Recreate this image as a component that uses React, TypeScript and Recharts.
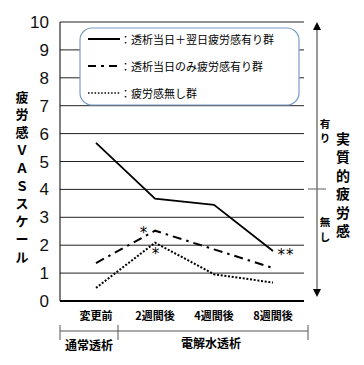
import { LineChart, Line, XAxis, YAxis, CartesianGrid, LabelList } from "recharts";

const categories = ["変更前", "2週間後", "4週間後", "8週間後"];
const bothDays = [5.67, 3.67, 3.45, 1.79];
const dayOnly = [1.36, 2.52, 1.85, 1.18];
const noFatigue = [0.47, 2.09, 0.96, 0.66];
const bothDaysSig = ["", "", "", "**"];
const dayOnlySig = ["", "*", "", ""];
const noFatigueSig = ["", "*", "", ""];
const yTicks = [0, 1, 2, 3, 4, 5, 6, 7, 8, 9, 10];
const legendNames = ["：透析当日＋翌日疲労感有り群", "：透析当日のみ疲労感有り群", "：疲労感無し群"];
const yLabel = "疲労感ＶＡＳスケール";
const rightLabel = "実質的疲労感";

const data = categories.map((name, i) => ({
  name,
  both: bothDays[i],
  dayOnly: dayOnly[i],
  none: noFatigue[i],
  bothSig: bothDaysSig[i],
  dayOnlySig: dayOnlySig[i],
  noneSig: noFatigueSig[i],
}));

const JP = "'Noto Sans CJK JP', sans-serif";
const SOLID = { stroke: "#000", strokeWidth: 1.8 };
const DASHDOT = { stroke: "#000", strokeWidth: 2, strokeDasharray: "9 5 2.5 5" };
const DOTTED = { stroke: "#000", strokeWidth: 2, strokeDasharray: "2 1.7" };

function sigLabel(dx: number, dy: number) {
  return (props: any) => {
    const { x, y, value } = props;
    if (!value) return null;
    return (
      <text x={x + dx} y={y + dy + 7} textAnchor="middle" fontFamily="'DejaVu Sans', sans-serif" fontSize={15} letterSpacing={1} fill="#000">
        {value}
      </text>
    );
  };
}

export default function App() {
  const styles = [SOLID, DASHDOT, DOTTED];
  return (
    <div style={{ position: "absolute", left: 0, top: 0, width: 364, height: 365, background: "#fff" }}>
      <LineChart width={364} height={365} data={data} margin={{ top: 22, right: 60, bottom: 34, left: 0 }}>
        <CartesianGrid horizontal vertical={false} stroke="#222" strokeOpacity={1} />
        <XAxis
          dataKey="name"
          scale="point"
          padding={{ left: 36, right: 31 }}
          axisLine={{ stroke: "#000", strokeWidth: 2 }}
          tickLine={false}
          tickMargin={5}
          tick={{ fill: "#000", fontSize: 11, fontFamily: JP, fontWeight: 700 }}
        />
        <YAxis
          domain={[0, 10]}
          ticks={yTicks}
          width={60}
          axisLine={{ stroke: "#000" }}
          tickLine={false}
          tickMargin={5}
          tick={{ fill: "#111", fontSize: 17, fontFamily: "'Liberation Sans', Arial, sans-serif" }}
        />
        <Line dataKey="both" type="linear" dot={false} {...SOLID} isAnimationActive={false}>
          <LabelList dataKey="bothSig" content={sigLabel(13, 2)} />
        </Line>
        <Line dataKey="dayOnly" type="linear" dot={false} {...DASHDOT} isAnimationActive={false}>
          <LabelList dataKey="dayOnlySig" content={sigLabel(-11, 0)} />
        </Line>
        <Line dataKey="none" type="linear" dot={false} {...DOTTED} isAnimationActive={false}>
          <LabelList dataKey="noneSig" content={sigLabel(1, 9)} />
        </Line>
      </LineChart>

      <svg width={364} height={365} style={{ position: "absolute", left: 0, top: 0, pointerEvents: "none" }}>
        {/* 凡例 */}
        <rect x={80} y={28} width={219} height={77} rx={12} fill="#fff" stroke="#7b9cc8" strokeWidth={1.2} />
        {legendNames.map((n, i) => {
          const y = 39 + i * 27;
          return (
            <g key={n}>
              <line x1={88} x2={120} y1={y} y2={y} {...styles[i]} strokeWidth={i === 2 ? 1.5 : 2} strokeDasharray={i === 1 ? "8 5 3 5" : i === 2 ? "1.5 1.8" : undefined} />
              <text x={120} y={y} dominantBaseline="central" fontFamily={JP} fontSize={11} fill="#000">{n}</text>
            </g>
          );
        })}

        {/* 縦軸ラベル */}
        {Array.from(yLabel).map((c, i) => (
          <text key={i} x={22} y={96 + i * 17.8} textAnchor="middle" dominantBaseline="central" fontFamily={JP} fontSize={13} fontWeight={700} fill="#000">{c}</text>
        ))}

        {/* 右側の矢印 */}
        <line x1={317} x2={317} y1={28} y2={291} stroke="#777" strokeWidth={1.5} />
        <polygon points="317,22 313,30 321,30" fill="#000" />
        <polygon points="317,297 313,289 321,289" fill="#000" />
        <line x1={308} x2={326} y1={189} y2={189} stroke="#777" strokeWidth={1.2} />
        <text x={325} y={123} textAnchor="middle" dominantBaseline="central" fontFamily={JP} fontSize={10.5} fontWeight={700} fill="#000">有</text>
        <text x={325} y={137} textAnchor="middle" dominantBaseline="central" fontFamily={JP} fontSize={10.5} fontWeight={700} fill="#000">り</text>
        <text x={325} y={221} textAnchor="middle" dominantBaseline="central" fontFamily={JP} fontSize={10.5} fontWeight={700} fill="#000">無</text>
        <text x={325} y={236} textAnchor="middle" dominantBaseline="central" fontFamily={JP} fontSize={10.5} fontWeight={700} fill="#000">し</text>
        {Array.from(rightLabel).map((c, i) => (
          <text key={i} x={343} y={138 + i * 18.4} textAnchor="middle" dominantBaseline="central" fontFamily={JP} fontSize={14} fontWeight={700} fill="#000">{c}</text>
        ))}

        {/* 群ブラケット */}
        <line x1={60} x2={308} y1={331} y2={331} stroke="#555" strokeWidth={1} />
        <line x1={60} x2={60} y1={325} y2={340} stroke="#555" strokeWidth={1} />
        <line x1={118} x2={118} y1={325} y2={340} stroke="#555" strokeWidth={1} />
        <line x1={308} x2={308} y1={325} y2={340} stroke="#555" strokeWidth={1} />
        <text x={89} y={344} textAnchor="middle" dominantBaseline="central" fontFamily={JP} fontSize={12} fontWeight={700} fill="#000">通常透析</text>
        <text x={211} y={342} textAnchor="middle" dominantBaseline="central" fontFamily={JP} fontSize={12} fontWeight={700} fill="#000">電解水透析</text>
      </svg>
    </div>
  );
}
